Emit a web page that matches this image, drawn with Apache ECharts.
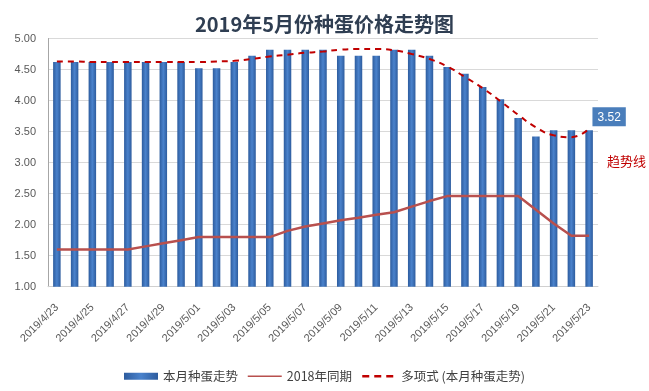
<!DOCTYPE html>
<html><head><meta charset="utf-8">
<script src="https://cdn.jsdelivr.net/npm/echarts@6/dist/echarts.min.js"></script>
<style>html,body{margin:0;padding:0;background:#fff;}#c{width:649px;height:391px;}</style>
</head><body><div id="c"></div>
<script>
const categories = ['2019/4/23','2019/4/24','2019/4/25','2019/4/26','2019/4/27','2019/4/28','2019/4/29','2019/4/30',
  '2019/5/01','2019/5/02','2019/5/03','2019/5/04','2019/5/05','2019/5/06','2019/5/07','2019/5/08','2019/5/09','2019/5/10',
  '2019/5/11','2019/5/12','2019/5/13','2019/5/14','2019/5/15','2019/5/16','2019/5/17','2019/5/18','2019/5/19','2019/5/20',
  '2019/5/21','2019/5/22','2019/5/23'];
const thisMonth = [4.62,4.62,4.62,4.62,4.62,4.62,4.62,4.62,4.52,4.52,4.62,4.72,4.82,4.82,4.82,4.82,4.72,4.72,4.72,4.82,4.82,
  4.72,4.54,4.43,4.22,4.02,3.72,3.42,3.52,3.52,3.52];
const lastYear = [1.60,1.60,1.60,1.60,1.60,1.65,1.70,1.75,1.80,1.80,1.80,1.80,1.80,1.90,1.97,2.02,2.07,2.11,2.16,2.20,2.29,
  2.38,2.46,2.46,2.46,2.46,2.46,2.24,2.02,1.82,1.82];
const trend = [4.63,4.63,4.62,4.62,4.62,4.62,4.62,4.62,4.62,4.63,4.64,4.67,4.71,4.74,4.77,4.79,4.82,4.83,4.83,4.81,4.75,
  4.67,4.55,4.38,4.20,3.99,3.77,3.57,3.44,3.41,3.55];
const names = ['本月种蛋走势','2018年同期','多项式 (本月种蛋走势)'];
const titleText = '2019年5月份种蛋价格走势图';
const trendNote = '趋势线';

const chart = echarts.init(document.getElementById('c'));
const last = thisMonth.length - 1;
const barGrad = new echarts.graphic.LinearGradient(0,0,1,0,[
  {offset:0,color:'#2d5c9e'},{offset:0.5,color:'#4a82cc'},{offset:1,color:'#2d5c9e'}]);
chart.setOption({
  animation:false,
  backgroundColor:'#fff',
  title:{text:titleText,left:'center',top:9,textStyle:{fontFamily:'Noto Sans CJK SC',fontSize:20,fontWeight:'bold',color:'#2f3e52'}},
  grid:{left:48,right:51,top:38.5,bottom:104.3},
  legend:{top:365,left:119,itemWidth:34,itemHeight:7,itemGap:9,
    textStyle:{fontFamily:'Noto Sans CJK SC',fontSize:12.5,color:'#404040'},
    data:[{name:names[0],icon:'rect'},
      {name:names[1],itemStyle:{opacity:0},lineStyle:{width:1.5}},
      {name:names[2],itemStyle:{opacity:0},lineStyle:{width:2.5,type:[7,5]}}]},
  xAxis:{type:'category',data:categories,boundaryGap:true,
    axisLine:{lineStyle:{color:'#d0d0d0'}},axisTick:{show:false},
    axisLabel:{interval:1,rotate:45,margin:19,fontFamily:'Liberation Sans',fontSize:11,color:'#595959'}},
  yAxis:{type:'value',min:1,max:5,interval:0.5,
    axisLine:{show:true,lineStyle:{color:'#a6a6a6'}},axisTick:{show:false},
    splitLine:{lineStyle:{color:'#d9d9d9'}},
    axisLabel:{formatter:v=>v.toFixed(2),fontFamily:'Liberation Sans',fontSize:11,color:'#595959',margin:12}},
  graphic:[{type:'text',left:607,top:155,style:{text:trendNote,fill:'#c00000',font:'13px "Noto Sans CJK SC"'}}],
  series:[
    {name:names[0],type:'bar',barWidth:7.5,itemStyle:{color:barGrad},
      data:thisMonth.map((v,i)=> i===last ? {value:v,label:{show:true,position:'top',distance:4,offset:[20,0],
        formatter:p=>p.value.toFixed(2),color:'#fff',backgroundColor:'#4a7ebb',padding:[4,5,3,5],
        fontFamily:'Liberation Sans',fontSize:12}} : v)},
    {name:names[1],type:'line',symbol:'none',lineStyle:{color:'#b8504e',width:2.5},itemStyle:{color:'#b8504e'},data:lastYear},
    {name:names[2],type:'line',symbol:'none',smooth:true,lineStyle:{color:'#c00000',width:2,type:[6,5]},itemStyle:{color:'#c00000'},data:trend}
  ]
});
</script></body></html>
